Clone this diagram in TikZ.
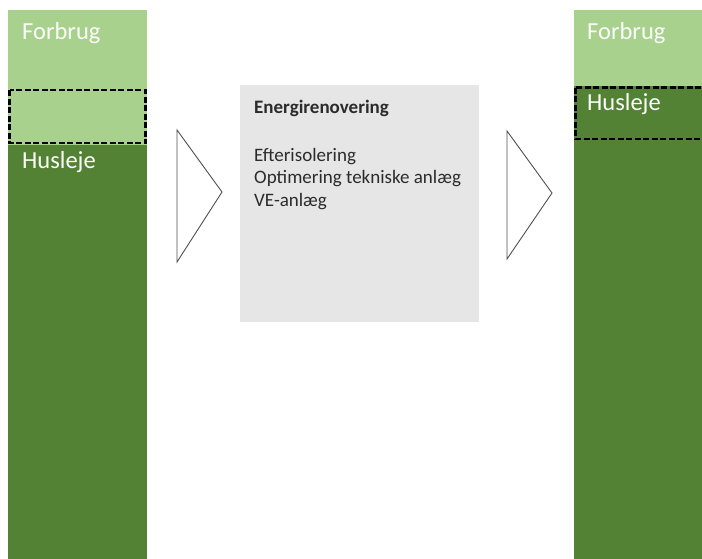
\documentclass[tikz,border=0pt]{standalone}
\usepackage{fontspec}
\setmainfont{Carlito}
\definecolor{lysgroen}{HTML}{A9D18E}
\definecolor{moerkgroen}{HTML}{548235}
\definecolor{lysgraa}{HTML}{E7E6E6}
\definecolor{pilgraa}{HTML}{505050}
\definecolor{tekstgraa}{HTML}{2B2B2B}

\begin{document}
\begin{tikzpicture}[x=1pt,y=1pt]
        \tikzstyle{every node}+=[inner sep=0pt]
        \tikzstyle{soejletekst}=[anchor=base west, text=white!95!lysgroen, font=\fontsize{24.5}{29}\selectfont]
        \tikzstyle{boksetekst}=[anchor=base west, text=tekstgraa, font=\fontsize{19}{22.5}\selectfont]
        \tikzstyle{markering}=[black, line width=2.8pt, dash pattern=on 6pt off 2.5pt]
        \tikzstyle{pil}=[pilgraa, line width=0.9pt, fill=white, line join=miter]
        \clip (0,0) rectangle (702,-558);
        % venstre soejle
        \fill [lysgroen] (8,-10) rectangle (146.5,-145);
        \fill [moerkgroen] (8,-145) rectangle (146.5,-560);
        \draw [markering] (9.5,-90) rectangle (145.5,-143);
        \node [soejletekst] (forbrugA) at (22,-39) {Forbrug};
        \node [soejletekst] (huslejeA) at (22,-168) {Husleje};
        % pil 1
        \draw [pil] (177,-130) -- (222,-192) -- (177,-262) -- cycle;
        % midterste boks
        \fill [lysgraa] (240,-85) rectangle (479,-322);
        \node [boksetekst, font=\fontsize{19}{22.5}\selectfont\bfseries] (titel) at (254,-113) {Energirenovering};
        \node [boksetekst, align=left] (tiltag) at (254,-206) {Efterisolering\\Optimering tekniske anlæg\\VE-anlæg};
        % pil 2
        \draw [pil] (507,-131) -- (552,-193) -- (507,-259) -- cycle;
        % hoejre soejle
        \fill [lysgroen] (574,-10) rectangle (705,-86);
        \fill [moerkgroen] (574,-86) rectangle (705,-560);
        \draw [markering] (575.5,-87.5) rectangle (710,-139);
        \node [soejletekst] (forbrugB) at (587,-39) {Forbrug};
        \node [soejletekst] (huslejeB) at (587,-110) {Husleje};
        \end{tikzpicture}
\end{document}
